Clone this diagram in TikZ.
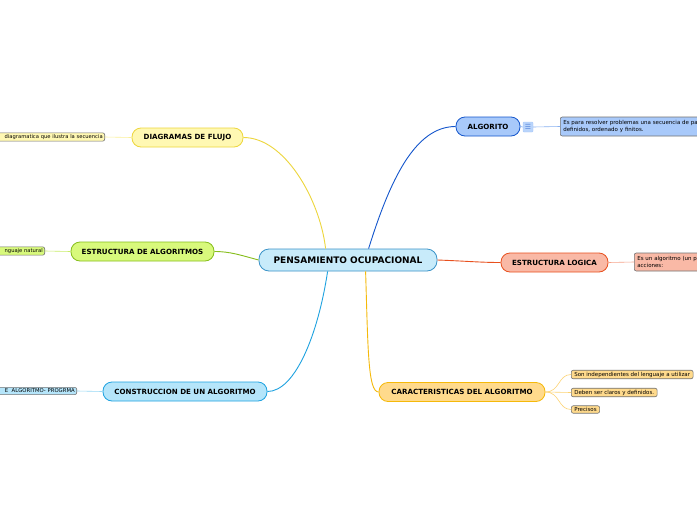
\documentclass[tikz,border=0pt]{standalone}
\usepackage{fontspec}
\setmainfont{DejaVu Sans}
\begin{document}
\begin{tikzpicture}[x=1pt,y=-1pt,
  branch/.style={draw, rounded corners=9pt, line width=0.8pt, minimum height=19pt, inner sep=0pt,
    font=\bfseries\fontsize{7.1}{8}\selectfont},
  leaf/.style={draw=black!55, rounded corners=2pt, line width=0.6pt, inner xsep=3pt, inner ysep=1.6pt,
    font=\fontsize{5.5}{6.5}\selectfont},
  lleaf/.style={leaf, anchor=east, inner xsep=2pt, align=right, font=\fontsize{5.2}{6}\selectfont},
  main/.style={line width=0.9pt},
  thin/.style={line width=0.6pt}]
\definecolor{yelF}{HTML}{FFF8B3}\definecolor{yelD}{HTML}{EDD63C}
\definecolor{grnF}{HTML}{D8F97C}\definecolor{grnD}{HTML}{86BE1C}
\definecolor{cynF}{HTML}{B5E5FA}\definecolor{cynD}{HTML}{1EA2E0}
\definecolor{bluF}{HTML}{A8C9FA}\definecolor{bluD}{HTML}{1456CC}
\definecolor{redF}{HTML}{F9B9A6}\definecolor{redD}{HTML}{E8501E}
\definecolor{orF}{HTML}{FFDA8C}\definecolor{orD}{HTML}{F5B90A}
\definecolor{cenF}{HTML}{C8EBFA}\definecolor{cenD}{HTML}{3A93C8}
\useasboundingbox (0,0) rectangle (697,520);
\clip (0,0) rectangle (697,520);
\fill[white] (0,0) rectangle (697,520);
% central
\node[branch, fill=cenF, draw=cenD, minimum width=178pt, minimum height=22pt, rounded corners=10pt,
  font=\bfseries\fontsize{9}{10}\selectfont] (c) at (348,260) {PENSAMIENTO OCUPACIONAL};
% branches
\node[branch, fill=yelF, draw=yelD, minimum width=111pt] (df) at (187.5,137.5) {DIAGRAMAS DE FLUJO};
\node[branch, fill=grnF, draw=grnD, minimum width=143pt] (ea) at (142.5,251.5) {ESTRUCTURA DE ALGORITMOS};
\node[branch, fill=cynF, draw=cynD, minimum width=164pt] (ca) at (185,391.5) {CONSTRUCCION DE UN ALGORITMO};
\node[branch, fill=bluF, draw=bluD, minimum width=64pt] (al) at (488,126.5) {ALGORITO};
\node[branch, fill=redF, draw=redD, minimum width=107pt] (el) at (554.5,262.5) {ESTRUCTURA LOGICA};
\node[branch, fill=orF, draw=orD, minimum width=166pt] (car) at (462,392) {CARACTERISTICAS DEL ALGORITMO};
% leaves
\node[lleaf, fill=yelF, text width=140pt] (l1) at (105,137) {diagramatica que ilustra la secuencia};
\node[lleaf, fill=grnF, text width=80pt] (l2) at (45,251) {nguaje natural};
\node[lleaf, fill=cynF, text width=110pt, font=\fontsize{5.3}{6}\selectfont] (l3) at (77,391) {E\ \ ALGORITMO- PROGRMA};
\node[leaf, fill=bluF, anchor=west, text width=170pt, minimum height=19pt, align=left] (l4) at (560,126.5)
  {Es para resolver problemas una secuencia de pa\\definidos, ordenado y finitos.};
\node[leaf, fill=redF, anchor=west, text width=150pt, minimum height=18pt, align=left] (l5) at (634,262)
  {Es un algoritmo (un p\\acciones:};
\node[leaf, fill=orF, anchor=west] (l6) at (571,374.5) {Son independientes del lenguaje a utilizar};
\node[leaf, fill=orF, anchor=west] (l7) at (571,392.5) {Deben ser claros y definidos.};
\node[leaf, fill=orF, anchor=west] (l8) at (571,409.5) {Precisos};
% icon
\node[fill=bluF!80, draw=bluF, rounded corners=1pt, inner sep=0.5pt, minimum width=10pt, minimum height=10pt,
  font=\fontsize{7}{7}\selectfont, text=bluD!70] (ic) at (528,127) {☰};
% main connectors
\draw[main, draw=yelD] (c.north west) ++(67,0) coordinate (s1) .. controls (320,200) and (285,137.5) .. (df.east);
\draw[main, draw=grnD] (c.west) .. controls (240,255) and (230,251.5) .. (ea.east);
\draw[main, draw=cynD] (c.south west) ++(69,0) coordinate (s3) .. controls (318,335) and (295,391.5) .. (ca.east);
\draw[main, draw=bluD] (c.north west) ++(110,0) coordinate (s4) .. controls (390,180) and (415,126.5) .. (al.west);
\draw[main, draw=redD] (c.east) .. controls (465,261) and (480,262.5) .. (el.west);
\draw[main, draw=orD] (c.south west) ++(107,0) coordinate (s6) .. controls (368,350) and (368,392) .. (car.west);
% leaf connectors
\draw[thin, draw=yelF!80!yelD] (df.west) -- (l1.east);
\draw[thin, draw=grnF!80!grnD] (ea.west) -- (l2.east);
\draw[thin, draw=cynF!80!cynD] (ca.west) -- (l3.east);
\draw[thin, draw=bluF!80!bluD] (al.east) -- (ic.west);
\draw[thin, draw=bluF!80!bluD] (ic.east) -- (l4.west);
\draw[thin, draw=redF!80!redD] (el.east) -- (l5.west);
\draw[thin, draw=orF!80!orD] (car.east) .. controls (560,392) and (558,374.5) .. (l6.west);
\draw[thin, draw=orF!80!orD] (car.east) -- (l7.west);
\draw[thin, draw=orF!80!orD] (car.east) .. controls (560,392) and (558,409.5) .. (l8.west);
\end{tikzpicture}
\end{document}
